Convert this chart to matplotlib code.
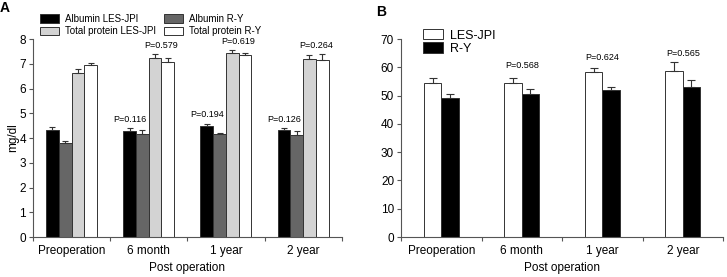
import numpy as np
import matplotlib
matplotlib.use('Agg')
import matplotlib.pyplot as plt

plt.rcParams['font.family'] = ['Liberation Sans', 'DejaVu Sans']

periods = ['Preoperation', '6 month', '1 year', '2 year']

# panel A (mg/dl)
alb_les = [4.32, 4.28, 4.48, 4.32]
alb_les_err = [0.13, 0.12, 0.10, 0.07]
alb_ry = [3.80, 4.17, 4.16, 4.12]
alb_ry_err = [0.10, 0.14, 0.06, 0.15]
tp_les = [6.63, 7.24, 7.45, 7.21]
tp_les_err = [0.18, 0.14, 0.10, 0.14]
tp_ry = [6.95, 7.06, 7.34, 7.17]
tp_ry_err = [0.10, 0.16, 0.08, 0.21]
p_alb = ['P=0.116', 'P=0.194', 'P=0.126']
p_alb_y = [4.76, 4.96, 4.76]
p_tp = ['P=0.579', 'P=0.619', 'P=0.264']
p_tp_y = [7.73, 7.9, 7.73]

# panel B
les = [54.4, 54.6, 58.3, 58.8]
les_err = [2.0, 1.7, 1.3, 3.1]
ry = [49.0, 50.5, 52.1, 53.2]
ry_err = [1.5, 1.8, 1.1, 2.3]
p_b = ['P=0.568', 'P=0.624', 'P=0.565']
p_b_y = [60.6, 63.5, 64.9]

fig = plt.figure(figsize=(7.27, 2.77), dpi=100)
axA = fig.add_axes([0.0454, 0.1444, 0.4246, 0.7146])
axB = fig.add_axes([0.5516, 0.1444, 0.4429, 0.7146])

edge = '#333333'
x = np.arange(len(periods))

def style(ax, ymax, step):
    for s in ['top', 'right']:
        ax.spines[s].set_visible(False)
    for s in ['left', 'bottom']:
        ax.spines[s].set_color('#555555')
        ax.spines[s].set_linewidth(0.8)
    ax.set_xlim(-0.5, 3.5)
    ax.set_ylim(0, ymax)
    ax.set_yticks(np.arange(0, ymax + step / 2, step))
    ax.set_xticks(np.arange(-0.5, 4, 1))
    ax.set_xticklabels([])
    ax.set_xticks(x, minor=True)
    ax.set_xticklabels(periods, minor=True)
    ax.tick_params(axis='x', which='minor', length=0, labelsize=8.5, pad=6)
    ax.tick_params(axis='x', which='major', length=3, color='#555555')
    ax.tick_params(axis='y', length=3, labelsize=8.5, color='#555555', pad=2)
    ax.set_xlabel('Post operation', fontsize=8.5, labelpad=3)

# ---- A
w = 0.165
series = [(alb_les, alb_les_err, 'black', 'Albumin LES-JPI'),
          (alb_ry, alb_ry_err, '#666666', 'Albumin R-Y'),
          (tp_les, tp_les_err, '#d3d3d3', 'Total protein LES-JPI'),
          (tp_ry, tp_ry_err, 'white', 'Total protein R-Y')]
bars = []
for i, (v, e, c, lab) in enumerate(series):
    pos = x + (i - 1.5) * w
    b = axA.bar(pos, v, w, color=c, edgecolor=edge, linewidth=0.7, label=lab,
                yerr=[np.zeros(4), e], capsize=2.5,
                error_kw=dict(ecolor=edge, elinewidth=0.8, capthick=0.8))
    bars.append(b)
style(axA, 8, 1)
axA.set_ylabel('mg/dl', fontsize=8.5, labelpad=0)
for k in range(3):
    axA.text(x[k + 1] - 1.5 * w, p_alb_y[k], p_alb[k], ha='center', va='center', fontsize=6.5)
    axA.text(x[k + 1] + w, p_tp_y[k], p_tp[k], ha='center', va='center', fontsize=6.5)
axA.legend([bars[0], bars[2], bars[1], bars[3]],
           ['Albumin LES-JPI', 'Total protein LES-JPI', 'Albumin R-Y', 'Total protein R-Y'],
           ncol=2, frameon=False, fontsize=7, loc='lower left',
           bbox_to_anchor=(0.0, 0.98), handlelength=2.0, handleheight=1.0,
           columnspacing=0.8, handletextpad=0.6, labelspacing=0.25, borderpad=0.2)

# ---- B
wb = 0.215
b1 = axB.bar(x - wb / 2, les, wb, color='white', edgecolor=edge, linewidth=0.7,
             yerr=[np.zeros(4), les_err], capsize=3,
             error_kw=dict(ecolor=edge, elinewidth=0.8, capthick=0.8))
b2 = axB.bar(x + wb / 2, ry, wb, color='black', edgecolor=edge, linewidth=0.7,
             yerr=[np.zeros(4), ry_err], capsize=3,
             error_kw=dict(ecolor=edge, elinewidth=0.8, capthick=0.8))
style(axB, 70, 10)
for k in range(3):
    axB.text(x[k + 1], p_b_y[k], p_b[k], ha='center', va='center', fontsize=6.5)
axB.legend([b1, b2], ['LES-JPI', 'R-Y'], frameon=False, fontsize=9,
           loc='upper left', bbox_to_anchor=(0.04, 1.095), handlelength=1.6,
           handleheight=0.9, handletextpad=0.6, labelspacing=0.05, borderpad=0.2)

fig.text(0.0, 0.97, 'A', fontsize=10, fontweight='bold', va='center')
fig.text(0.517, 0.955, 'B', fontsize=10, fontweight='bold', va='center')

fig.savefig('out.png', dpi=100)
